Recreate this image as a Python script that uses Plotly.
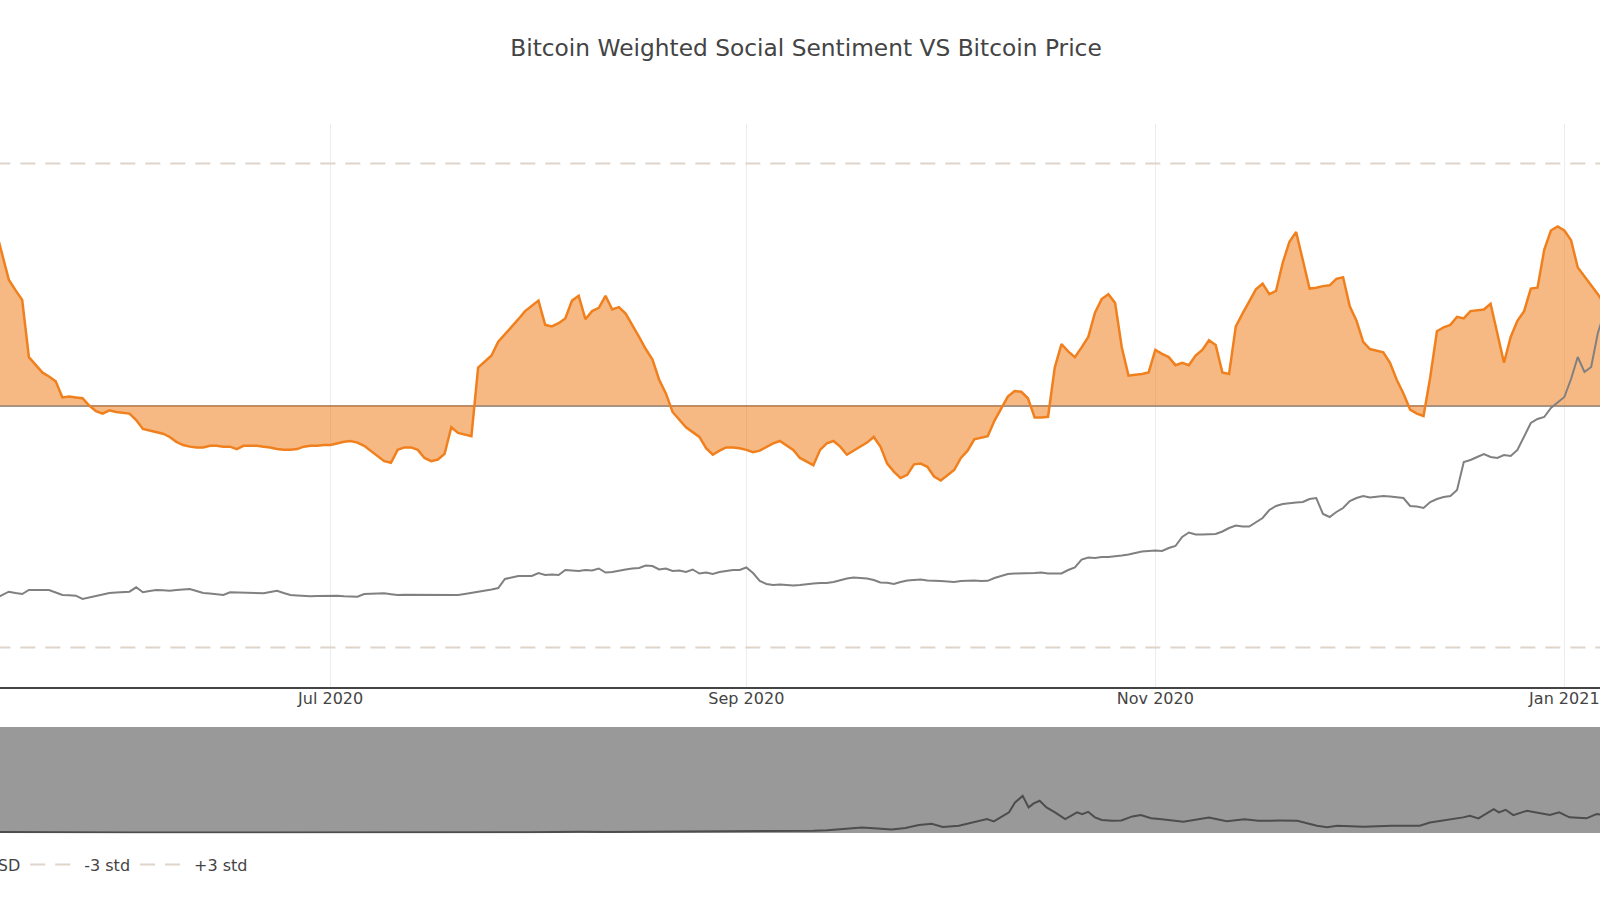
import pandas as pd
import plotly.graph_objects as go

# ---------------- data ----------------
# Weighted social sentiment (daily, 2020-05-12 .. 2021-01-07), in std units
sent_may = [2.20, 1.87, 1.56, 1.43, 1.31, 0.60, 0.50, 0.41, 0.36, 0.30,
            0.10, 0.11, 0.10, 0.09, 0.00, -0.07, -0.10, -0.06, -0.08, -0.09]
sent_jun = [-0.10, -0.18, -0.29, -0.31, -0.33, -0.35, -0.39, -0.45, -0.49, -0.51,
            -0.52, -0.52, -0.50, -0.50, -0.51, -0.51, -0.54, -0.50, -0.50, -0.50,
            -0.51, -0.52, -0.54, -0.55, -0.55, -0.54, -0.51, -0.50, -0.50, -0.49]
sent_jul = [-0.49, -0.47, -0.45, -0.44, -0.46, -0.50, -0.56, -0.63, -0.69, -0.71,
            -0.55, -0.52, -0.52, -0.55, -0.65, -0.69, -0.67, -0.60, -0.27, -0.34,
            -0.36, -0.38, 0.47, 0.55, 0.62, 0.79, 0.88, 0.98, 1.07, 1.17, 1.24]
sent_aug = [1.30, 1.00, 0.98, 1.02, 1.08, 1.30, 1.36, 1.07, 1.17, 1.21,
            1.36, 1.19, 1.22, 1.14, 1.00, 0.85, 0.70, 0.57, 0.32, 0.15,
            -0.08, -0.18, -0.27, -0.33, -0.39, -0.53, -0.61, -0.56, -0.52, -0.52, -0.53]
sent_sep = [-0.55, -0.58, -0.56, -0.51, -0.47, -0.44, -0.50, -0.55, -0.65, -0.70,
            -0.74, -0.55, -0.47, -0.44, -0.51, -0.61, -0.56, -0.51, -0.46, -0.39,
            -0.51, -0.72, -0.82, -0.90, -0.86, -0.73, -0.72, -0.76, -0.88, -0.93]
sent_oct = [-0.86, -0.80, -0.65, -0.56, -0.42, -0.40, -0.38, -0.19, -0.04, 0.11,
            0.18, 0.17, 0.09, -0.15, -0.15, -0.14, 0.47, 0.76, 0.67, 0.60,
            0.72, 0.85, 1.15, 1.32, 1.38, 1.27, 0.72, 0.37, 0.38, 0.39, 0.41]
sent_nov = [0.69, 0.64, 0.60, 0.50, 0.53, 0.50, 0.62, 0.69, 0.81, 0.75,
            0.41, 0.39, 0.98, 1.14, 1.30, 1.44, 1.51, 1.38, 1.42, 1.77,
            2.03, 2.15, 1.80, 1.45, 1.46, 1.48, 1.49, 1.57, 1.59, 1.23]
sent_dec = [1.05, 0.79, 0.70, 0.68, 0.66, 0.53, 0.32, 0.15, -0.05, -0.10,
            -0.13, 0.35, 0.92, 0.97, 1.00, 1.10, 1.08, 1.17, 1.18, 1.19,
            1.26, 0.90, 0.53, 0.85, 1.05, 1.17, 1.45, 1.46, 1.93, 2.17, 2.22]
sent_jan = [2.17, 2.05, 1.71, 1.60, 1.49, 1.38, 1.25]

# Bitcoin price USD (daily, same dates)
price_may = [8850, 9150, 9530, 9400, 9300, 9700, 9720, 9700, 9700, 9450,
             9200, 9170, 9130, 8800, 8950, 9070, 9250, 9400, 9450, 9500]
price_jun = [9530, 9970, 9470, 9600, 9700, 9670, 9630, 9700, 9750, 9800,
             9600, 9400, 9350, 9280, 9200, 9470, 9450, 9420, 9400, 9380,
             9370, 9500, 9630, 9400, 9200, 9150, 9100, 9070, 9100, 9120]
price_jul = [9130, 9130, 9080, 9050, 9030, 9300, 9320, 9350, 9370, 9280,
             9200, 9230, 9220, 9230, 9220, 9200, 9200, 9180, 9190, 9200,
             9300, 9400, 9500, 9600, 9750, 9900, 10800, 10950, 11100, 11100, 11100]
price_aug = [11400, 11200, 11250, 11200, 11700, 11650, 11600, 11700, 11650, 11850,
             11450, 11500, 11650, 11750, 11850, 11900, 12150, 12100, 11750, 11850,
             11600, 11650, 11500, 11750, 11350, 11450, 11300, 11500, 11600, 11700, 11700]
price_sep = [11950, 11400, 10600, 10300, 10200, 10250, 10220, 10150, 10200, 10300,
             10350, 10400, 10400, 10500, 10700, 10850, 10950, 10900, 10850, 10700,
             10450, 10420, 10300, 10500, 10650, 10700, 10750, 10650, 10650, 10600]
price_oct = [10550, 10500, 10600, 10650, 10650, 10600, 10620, 10900, 11100, 11300,
             11350, 11350, 11400, 11400, 11450, 11350, 11350, 11350, 11700, 11950,
             12750, 12950, 12900, 13000, 13000, 13050, 13150, 13250, 13400, 13550, 13600]
price_nov = [13650, 13600, 13900, 14100, 15000, 15450, 15250, 15250, 15300, 15300,
             15550, 15900, 16150, 16050, 16050, 16500, 16900, 17700, 18100, 18300,
             18400, 18450, 18500, 18800, 18900, 17300, 17000, 17500, 17900, 18600]
price_dec = [18900, 19100, 18950, 19000, 19100, 19050, 19000, 18900, 18100, 18050,
             17900, 18500, 18800, 19000, 19100, 19700, 22500, 22700, 23000, 23300,
             23000, 22900, 23200, 23100, 23700, 25000, 26400, 26800, 27000, 27900, 28500]
price_jan = [29000, 30800, 33000, 31500, 32000, 35400, 37500]

# Earlier price history (shown in the range slider)
hist_dates = ["2014-09-01", "2014-09-20", "2014-10-05", "2014-10-20", "2014-11-05", "2014-11-20",
              "2014-12-05", "2014-12-25", "2015-01-14", "2015-02-01", "2015-03-01", "2015-04-01",
              "2015-05-01", "2015-06-01", "2015-07-01", "2015-08-01", "2015-08-25", "2015-09-15",
              "2015-10-15", "2015-11-04", "2015-11-15", "2015-12-15", "2016-01-15", "2016-02-15",
              "2016-03-15", "2016-04-15", "2016-05-15", "2016-06-17", "2016-07-15", "2016-08-15",
              "2016-09-15", "2016-10-15", "2016-11-15", "2016-12-15", "2017-01-04", "2017-01-12",
              "2017-02-01", "2017-02-23", "2017-03-10", "2017-03-24", "2017-04-15", "2017-05-01",
              "2017-05-25", "2017-06-11", "2017-06-25", "2017-07-16", "2017-08-01", "2017-08-17",
              "2017-09-01", "2017-09-14", "2017-10-03", "2017-10-18", "2017-11-05", "2017-11-13",
              "2017-11-21", "2017-12-01", "2017-12-08", "2017-12-17", "2017-12-24", "2017-12-30",
              "2018-01-06", "2018-01-14", "2018-01-24", "2018-02-05", "2018-02-19", "2018-02-25",
              "2018-03-04", "2018-03-12", "2018-03-20", "2018-04-01", "2018-04-12", "2018-04-25",
              "2018-05-05", "2018-05-17", "2018-05-27", "2018-06-24", "2018-07-24", "2018-08-14",
              "2018-09-04", "2018-09-20", "2018-10-15", "2018-11-05", "2018-11-28", "2018-12-10",
              "2018-12-22", "2019-01-22", "2019-02-24", "2019-03-29", "2019-04-10", "2019-05-08",
              "2019-05-19", "2019-05-27", "2019-06-06", "2019-06-24", "2019-06-30", "2019-07-08",
              "2019-07-17", "2019-08-02", "2019-08-29", "2019-09-09", "2019-09-21", "2019-10-11",
              "2019-10-23", "2019-11-20", "2019-12-17", "2020-01-14", "2020-02-13", "2020-03-12",
              "2020-04-06", "2020-04-29", "2020-05-09"]
hist_prices = [480, 410, 320, 380, 340, 360,
               370, 320, 180, 230, 260, 245,
               235, 225, 260, 280, 210, 230,
               255, 400, 320, 450, 380, 400,
               415, 430, 455, 750, 665, 570,
               610, 640, 710, 780, 1130, 800,
               980, 1180, 1100, 930, 1180, 1420,
               2300, 2950, 2500, 1900, 2700, 4300,
               4900, 3200, 3900, 5650, 7400, 6200,
               8200, 10950, 16200, 19700, 13600, 15700,
               17100, 13600, 10950, 7400, 10950, 10050,
               11270, 8300, 6880, 6500, 6700, 8800,
               9500, 7800, 7400, 6000, 8200, 6200,
               7300, 6500, 6600, 6500, 3860, 3000,
               3860, 3330, 3900, 3860, 5600, 7400,
               8300, 9150, 7780, 12700, 10950, 12330,
               9520, 11800, 9520, 10950, 8300, 7780,
               10050, 8100, 6600, 8800, 10300, 4900,
               7300, 8800, 9800]

std_names = ["-3 std", "+3 std"]
std_levels = [-3.0, 3.0]

# ---------------- assemble ----------------
daily_dates = pd.date_range("2020-05-12", "2021-01-07", freq="D")
sentiment = (sent_may + sent_jun + sent_jul + sent_aug + sent_sep + sent_oct
             + sent_nov + sent_dec + sent_jan)
price_daily = (price_may + price_jun + price_jul + price_aug + price_sep + price_oct
               + price_nov + price_dec + price_jan)
price_x = list(pd.to_datetime(hist_dates)) + list(daily_dates)
price_y = hist_prices + price_daily

FONT = "DejaVu Sans"
ORANGE = "rgb(240,128,30)"

fig = go.Figure()
fig.add_trace(go.Scatter(
    x=daily_dates, y=sentiment, name="Weighted Social Sentiment",
    mode="lines", line=dict(color=ORANGE, width=2.5),
    fill="tozeroy", fillcolor="rgba(240,128,30,0.55)", yaxis="y"))
fig.add_trace(go.Scatter(
    x=price_x, y=price_y, name="BTCUSD", mode="lines",
    line=dict(color="rgb(128,128,128)", width=2), yaxis="y2"))
for nm, lv in zip(std_names, std_levels):
    fig.add_trace(go.Scatter(
        x=[daily_dates[0], daily_dates[-1]], y=[lv, lv], name=nm, mode="lines",
        line=dict(color="rgb(222,212,201)", width=2, dash="15px,10px"), yaxis="y"))

W, H = 2100, 900
fig.update_layout(
    width=W, height=H,
    margin=dict(l=0, r=0, t=124, b=213, autoexpand=False),
    paper_bgcolor="white", plot_bgcolor="white",
    font=dict(family=FONT, size=16, color="#444"),
    title=dict(text="Bitcoin Weighted Social Sentiment VS Bitcoin Price",
               font=dict(family=FONT, size=23.3, color="#444"),
               x=806 / W, xanchor="center", y=1 - 48 / H, yanchor="middle"),
    xaxis=dict(
        type="date",
        range=["2020-05-12 16:35", "2021-03-21 21:20"],
        tick0="2020-01-01", dtick="M2", tickformat="%b %Y",
        ticks="outside", ticklen=25, tickcolor="rgba(0,0,0,0)",
        ticklabelstandoff=-29,
        showgrid=True, gridcolor="#ECECEC", gridwidth=1,
        showline=True, linecolor="#444", linewidth=2,
        tickfont=dict(family=FONT, size=16, color="#444"),
        rangeslider=dict(visible=True, thickness=0.189, bgcolor="white",
                         borderwidth=0, autorange=False,
                         range=["2014-09-01 07:00", "2021-06-06"]),
    ),
    yaxis=dict(range=[-3.49, 3.49], showgrid=False, showticklabels=False,
               zeroline=True, zerolinecolor="#9d9591", zerolinewidth=1.5),
    yaxis2=dict(range=[0, 56300], overlaying="y", side="right", showgrid=False,
                showticklabels=False, zeroline=False),
    legend=dict(orientation="h", x=-384 / W, xanchor="left", y=-0.2853, yanchor="top",
                itemwidth=49, font=dict(family=FONT, size=16, color="#444"),
                bgcolor="rgba(0,0,0,0)"),
    showlegend=True,
)

fig.write_html(
    "out.html",
    config={"displayModeBar": False},
    post_script=("document.body.style.margin='0px';"
                 "document.body.style.overflow='hidden';"
                 "document.documentElement.style.overflow='hidden';"),
)
